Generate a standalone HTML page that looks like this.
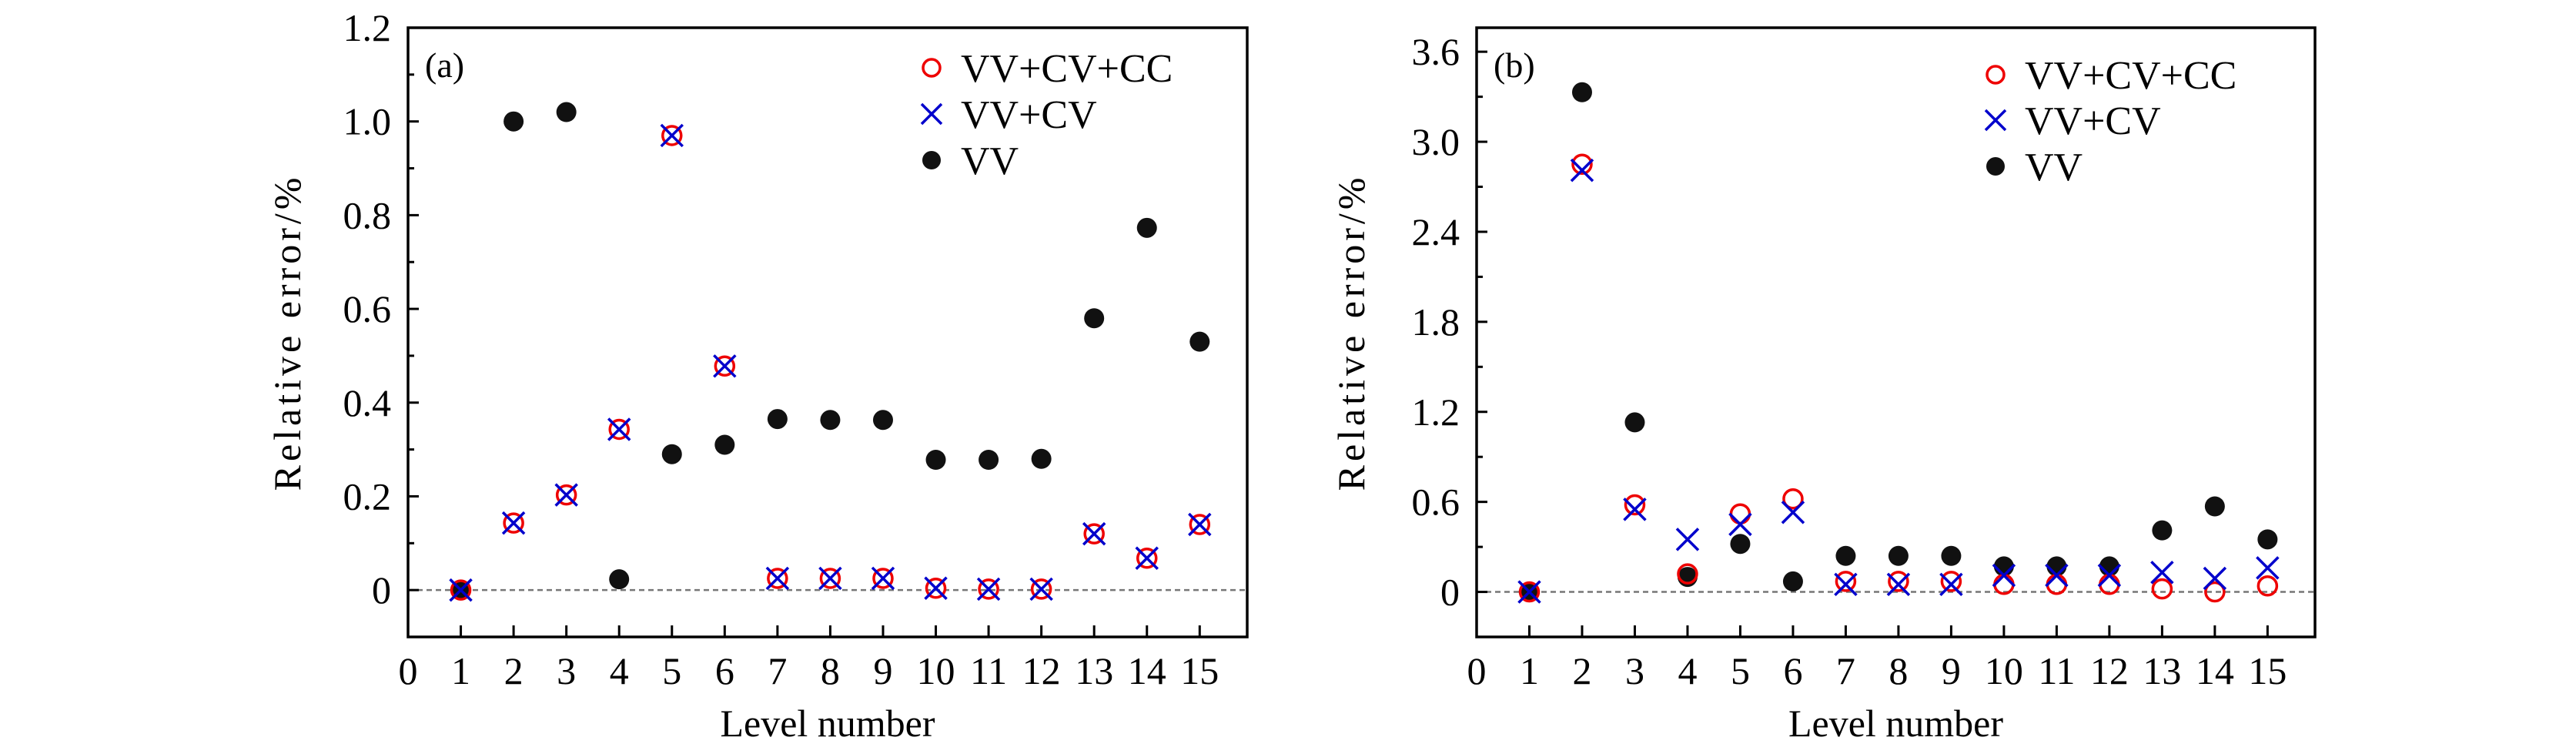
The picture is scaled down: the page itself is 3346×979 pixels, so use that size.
<!DOCTYPE html>
<html><head><meta charset="utf-8"><style>
html,body{margin:0;padding:0;background:#fff;}
svg, svg text{font-family:"Liberation Serif","DejaVu Serif",serif;}
</style></head><body>
<svg id="chart" width="3346" height="974" viewBox="0 0 3346 974" xmlns="http://www.w3.org/2000/svg" font-family="Liberation Serif, DejaVu Serif, serif"></svg>
<script>
const levels = [1,2,3,4,5,6,7,8,9,10,11,12,13,14,15];
const xTickLabels = [0,1,2,3,4,5,6,7,8,9,10,11,12,13,14,15];
const aVV   = [0,1.0,1.02,0.023,0.29,0.31,0.365,0.363,0.363,0.278,0.278,0.28,0.58,0.773,0.53];
const aCVCC = [0,0.143,0.203,0.343,0.97,0.478,0.025,0.025,0.025,0.004,0.002,0.002,0.12,0.068,0.14];
const aCV   = [0,0.143,0.203,0.343,0.97,0.478,0.025,0.025,0.025,0.004,0.002,0.002,0.12,0.068,0.14];
const aYTicks = [0,0.2,0.4,0.6,0.8,1.0,1.2];
const aYTickLabels = ["0","0.2","0.4","0.6","0.8","1.0","1.2"];
const bVV   = [0,3.33,1.13,0.10,0.32,0.07,0.24,0.24,0.24,0.17,0.17,0.17,0.41,0.57,0.35];
const bCVCC = [0,2.85,0.58,0.12,0.52,0.62,0.07,0.07,0.07,0.05,0.05,0.05,0.02,0.0,0.04];
const bCV   = [0,2.81,0.55,0.35,0.45,0.53,0.05,0.05,0.05,0.11,0.11,0.11,0.13,0.09,0.16];
const bYTicks = [0,0.6,1.2,1.8,2.4,3.0,3.6];
const bYTickLabels = ["0","0.6","1.2","1.8","2.4","3.0","3.6"];
const legendLabels = ["VV+CV+CC","VV+CV","VV"];

const NS="http://www.w3.org/2000/svg";
const FONT='"Liberation Serif", "DejaVu Serif", serif';
const svg=document.getElementById('chart');
function mk(tag,attrs,parent){const e=document.createElementNS(NS,tag);for(const k in attrs)e.setAttribute(k,attrs[k]);if(tag==='text'){e.style.fontFamily=FONT;}(parent||svg).appendChild(e);return e;}

function panel(cfg){
  const g=mk('g',{});
  
  
  const L=cfg.left,R=cfg.right,T=36,B=827;
  const xs=v=>L+(v-0)/(15.9-0)*(R-L);
  const ys=v=>B-(v-cfg.ymin)/(cfg.ymax-cfg.ymin)*(B-T);
  const z=mk('line',{x1:L,x2:R,y1:ys(0),y2:ys(0),stroke:'#777','stroke-width':2.5,'stroke-dasharray':'7,5'},g);
  
  
  for(let i=0;i<cfg.yt.length;i++){
    const y=ys(cfg.yt[i]);
    const t=mk('line',{x1:L,x2:L+14,y1:y,y2:y,stroke:'#000','stroke-width':3},g);
    
    
    const lb=mk('text',{x:L-22,y:y+17,'text-anchor':'end','font-size':50},g);
    lb.textContent=cfg.ytl[i];
    
    
    if(i<cfg.yt.length-1){
      const ym=ys((cfg.yt[i]+cfg.yt[i+1])/2);
      const m=mk('line',{x1:L,x2:L+8,y1:ym,y2:ym,stroke:'#000','stroke-width':3},g);
      
      
    }
  }
  for(const v of xTickLabels){
    const x=xs(v);
    if(v>0){
      const t=mk('line',{x1:x,x2:x,y1:B,y2:B-15,stroke:'#000','stroke-width':3},g);
      
      
    }
    const lb=mk('text',{x:x,y:888,'text-anchor':'middle','font-size':50},g);
    lb.textContent=String(v);
    
    
  }
  const xt=mk('text',{x:(L+R)/2,y:956,'text-anchor':'middle','font-size':50},g);
  xt.textContent='Level number';
  
  
  const yx=cfg.ytitleX, yy=(T+B)/2;
  const yt=mk('text',{x:yx,y:yy,'text-anchor':'middle','font-size':50,'letter-spacing':5,transform:`rotate(-90 ${yx} ${yy})`},g);
  yt.textContent='Relative error/%';
  
  
  levels.forEach((lv,i)=>{
    const c=mk('circle',{cx:xs(lv),cy:ys(cfg.vv[i]),r:13,fill:'#111'},g);
    
    
  });
  levels.forEach((lv,i)=>{
    const c=mk('circle',{cx:xs(lv),cy:ys(cfg.cc[i]),r:12,fill:'none',stroke:'#e00','stroke-width':3.5},g);
    
    
  });
  levels.forEach((lv,i)=>{
    const x=xs(lv),y=ys(cfg.cv[i]),s=14;
    const p=mk('path',{d:`M${x-s} ${y-s}L${x+s} ${y+s}M${x-s} ${y+s}L${x+s} ${y-s}`,stroke:'#00c','stroke-width':3.5,fill:'none'},g);
    
    
  });
  const fr=mk('rect',{x:L,y:T,width:R-L,height:B-T,fill:'none',stroke:'#000','stroke-width':3.5},g);
  
  
  const pl=mk('text',{x:L+22,y:100,'font-size':46},g);
  pl.textContent=cfg.label;
  
  
  const lg=mk('g',{},g);
  
  
  const mx=cfg.legX, tx=cfg.legX+38;
  cfg.legY.forEach((y,i)=>{
    const e=mk('g',{},lg);
    
    
    if(i===0) mk('circle',{cx:mx,cy:y,r:11,fill:'none',stroke:'#e00','stroke-width':3.5},e);
    if(i===1) mk('path',{d:`M${mx-13} ${y-13}L${mx+13} ${y+13}M${mx-13} ${y+13}L${mx+13} ${y-13}`,stroke:'#00c','stroke-width':3.5},e);
    if(i===2) mk('circle',{cx:mx,cy:y,r:12,fill:'#111'},e);
    const t=mk('text',{x:tx,y:y+18,'font-size':52},e);
    t.textContent=legendLabels[i];
  });
}
panel({name:'panel-a',label:'(a)',left:530,right:1620,ymin:-0.1,ymax:1.2,yt:aYTicks,ytl:aYTickLabels,vv:aVV,cc:aCVCC,cv:aCV,ytitleX:390,legX:1210,legY:[88,148,208]});
panel({name:'panel-b',label:'(b)',left:1918,right:3007,ymin:-0.3,ymax:3.76,yt:bYTicks,ytl:bYTickLabels,vv:bVV,cc:bCVCC,cv:bCV,ytitleX:1772,legX:2592,legY:[97,156,216]});
</script>
</body></html>
